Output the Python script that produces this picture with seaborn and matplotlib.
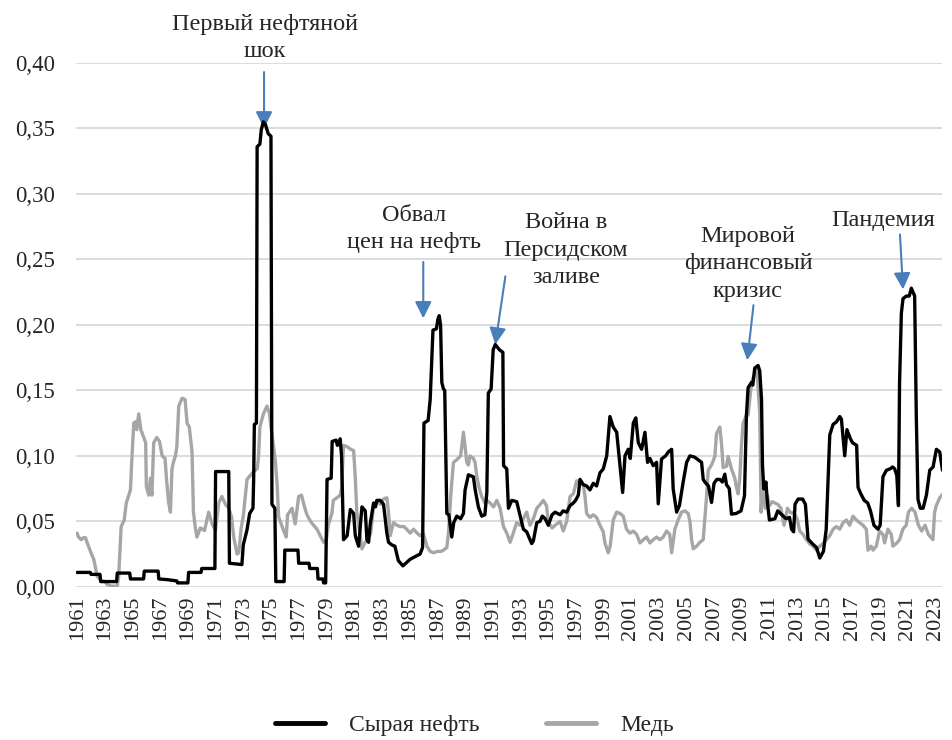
import numpy as np
import pandas as pd
import seaborn as sns
import matplotlib.pyplot as plt
from matplotlib.ticker import FuncFormatter
from matplotlib.lines import Line2D

# values (decimal year, volatility)
oil_year = [1961.0, 1961.95, 1962.0, 1962.65, 1962.7, 1963.85, 1963.9, 1964.8, 1964.85, 1965.8,
            1965.85, 1966.85, 1966.9, 1967.5, 1968.2, 1968.25, 1969.0, 1969.05, 1969.95, 1970.0,
            1970.95, 1971.0, 1971.95, 1972.0, 1972.9, 1973.0, 1973.27, 1973.46, 1973.7, 1973.75,
            1973.8, 1973.95, 1974.0, 1974.2, 1974.3, 1974.45, 1974.6, 1974.8, 1975.0, 1975.07,
            1975.28, 1975.35, 1975.95, 1976.0, 1976.95, 1977.0, 1977.75, 1977.8, 1978.35, 1978.4,
            1978.75, 1978.8, 1978.95, 1979.05, 1979.35, 1979.42, 1979.7, 1979.8, 1980.0, 1980.1,
            1980.24, 1980.5, 1980.73, 1980.97, 1981.09, 1981.33, 1981.57, 1981.81, 1981.93, 1982.05,
            1982.17, 1982.41, 1982.55, 1982.65, 1982.9, 1983.13, 1983.37, 1983.49, 1983.73, 1983.95,
            1984.2, 1984.53, 1985.05, 1985.4, 1985.77, 1985.95, 1986.05, 1986.35, 1986.5, 1986.7,
            1986.95, 1987.05, 1987.15, 1987.25, 1987.34, 1987.46, 1987.55, 1987.7, 1987.85, 1988.06,
            1988.2, 1988.42, 1988.7, 1988.9, 1989.02, 1989.26, 1989.62, 1989.75, 1989.98, 1990.22,
            1990.45, 1990.59, 1990.7, 1990.9, 1991.05, 1991.2, 1991.5, 1991.75, 1991.8, 1992.03,
            1992.15, 1992.39, 1992.75, 1992.99, 1993.23, 1993.47, 1993.83, 1993.95, 1994.2, 1994.43,
            1994.6, 1994.8, 1995.03, 1995.3, 1995.52, 1995.88, 1996.1, 1996.36, 1996.6, 1996.84,
            1997.0, 1997.2, 1997.32, 1997.56, 1997.8, 1998.04, 1998.28, 1998.52, 1998.76, 1999.0,
            1999.25, 1999.48, 1999.72, 1999.97, 2000.21, 2000.4, 2000.57, 2000.8, 2000.95, 2001.17,
            2001.35, 2001.53, 2001.77, 2002.01, 2002.2, 2002.37, 2002.61, 2002.85, 2002.97, 2003.21,
            2003.5, 2003.7, 2003.94, 2004.05, 2004.3, 2004.5, 2004.77, 2005.02, 2005.26, 2005.6,
            2005.85, 2006.1, 2006.22, 2006.34, 2006.6, 2006.82, 2007.0, 2007.2, 2007.42, 2007.6,
            2007.78, 2007.9, 2008.1, 2008.26, 2008.6, 2008.95, 2009.2, 2009.34, 2009.46, 2009.7,
            2009.8, 2009.94, 2010.18, 2010.3, 2010.43, 2010.5, 2010.6, 2010.75, 2010.85, 2011.0,
            2011.4, 2011.6, 2011.9, 2012.2, 2012.45, 2012.6, 2012.75, 2012.85, 2013.07, 2013.4,
            2013.6, 2013.79, 2014.1, 2014.4, 2014.64, 2014.9, 2015.1, 2015.24, 2015.36, 2015.6,
            2015.85, 2016.08, 2016.2, 2016.44, 2016.6, 2016.85, 2017.0, 2017.3, 2017.4, 2017.6,
            2017.85, 2018.1, 2018.3, 2018.55, 2018.84, 2019.0, 2019.2, 2019.45, 2019.7, 2019.9,
            2020.05, 2020.2, 2020.32, 2020.4, 2020.53, 2020.65, 2020.89, 2021.1, 2021.25, 2021.49,
            2021.61, 2021.73, 2021.9, 2022.1, 2022.34, 2022.58, 2022.82, 2023.06, 2023.3, 2023.5]
oil_val = [0.011, 0.011, 0.0095, 0.0095, 0.004, 0.004, 0.0105, 0.0105, 0.006, 0.006,
           0.012, 0.012, 0.006, 0.0055, 0.0045, 0.003, 0.003, 0.011, 0.011, 0.014,
           0.014, 0.088, 0.088, 0.018, 0.017, 0.032, 0.0435, 0.056, 0.06, 0.082,
           0.124, 0.125, 0.336, 0.338, 0.349, 0.355, 0.353, 0.346, 0.344, 0.063,
           0.06, 0.004, 0.004, 0.028, 0.028, 0.018, 0.018, 0.014, 0.014, 0.006,
           0.006, 0.003, 0.003, 0.082, 0.083, 0.111, 0.112, 0.108, 0.113, 0.0995,
           0.036, 0.039, 0.059, 0.056, 0.039, 0.031, 0.061, 0.058, 0.036, 0.034,
           0.048, 0.064, 0.061, 0.066, 0.066, 0.063, 0.041, 0.034, 0.032, 0.031,
           0.02, 0.016, 0.021, 0.023, 0.025, 0.03, 0.125, 0.127, 0.143, 0.196,
           0.197, 0.204, 0.207, 0.2, 0.156, 0.151, 0.15, 0.056, 0.055, 0.038,
           0.049, 0.054, 0.052, 0.056, 0.074, 0.0855, 0.084, 0.074, 0.061, 0.054,
           0.055, 0.072, 0.148, 0.151, 0.181, 0.185, 0.181, 0.179, 0.0925, 0.09,
           0.06, 0.066, 0.065, 0.0545, 0.044, 0.042, 0.033, 0.035, 0.049, 0.05,
           0.054, 0.052, 0.047, 0.055, 0.057, 0.055, 0.058, 0.057, 0.062, 0.064,
           0.066, 0.07, 0.082, 0.078, 0.077, 0.074, 0.079, 0.077, 0.087, 0.09,
           0.1, 0.13, 0.122, 0.118, 0.0925, 0.072, 0.1, 0.105, 0.098, 0.125,
           0.129, 0.11, 0.105, 0.118, 0.095, 0.098, 0.0925, 0.095, 0.0634, 0.0976,
           0.1, 0.103, 0.105, 0.0747, 0.057, 0.062, 0.08, 0.095, 0.1, 0.099,
           0.097, 0.095, 0.082, 0.08, 0.077, 0.0644, 0.079, 0.082, 0.082, 0.08,
           0.086, 0.078, 0.075, 0.0555, 0.056, 0.058, 0.0695, 0.131, 0.152, 0.156,
           0.154, 0.167, 0.169, 0.165, 0.143, 0.0925, 0.0747, 0.08, 0.065, 0.051,
           0.052, 0.058, 0.055, 0.052, 0.053, 0.044, 0.042, 0.063, 0.067, 0.067,
           0.063, 0.0365, 0.033, 0.03, 0.022, 0.027, 0.0436, 0.083, 0.116, 0.124,
           0.126, 0.13, 0.128, 0.1, 0.12, 0.113, 0.11, 0.108, 0.076, 0.071,
           0.066, 0.064, 0.058, 0.047, 0.044, 0.047, 0.084, 0.089, 0.09, 0.0915,
           0.09, 0.085, 0.062, 0.156, 0.209, 0.22, 0.222, 0.222, 0.228, 0.222,
           0.13, 0.0667, 0.06, 0.06, 0.07, 0.089, 0.0915, 0.105, 0.103, 0.089]

cu_year = [1961.0, 1961.1, 1961.3, 1961.45, 1961.6, 1961.75, 1962.0, 1962.2, 1962.45, 1962.7,
           1963.0, 1963.2, 1963.5, 1963.9, 1964.0, 1964.18, 1964.4, 1964.55, 1964.85, 1964.95,
           1965.09, 1965.2, 1965.3, 1965.45, 1965.6, 1965.81, 1965.95, 1966.0, 1966.17, 1966.3,
           1966.4, 1966.53, 1966.75, 1966.95, 1967.14, 1967.35, 1967.45, 1967.6, 1967.74, 1967.85,
           1967.95, 1968.1, 1968.2, 1968.34, 1968.58, 1968.8, 1968.94, 1969.1, 1969.3, 1969.4,
           1969.54, 1969.65, 1969.9, 1970.2, 1970.5, 1970.75, 1970.99, 1971.23, 1971.45, 1971.71,
           1971.95, 1972.15, 1972.31, 1972.55, 1972.67, 1972.85, 1973.0, 1973.27, 1973.5, 1973.75,
           1974.0, 1974.1, 1974.2, 1974.45, 1974.71, 1974.9, 1975.0, 1975.31, 1975.45, 1975.55,
           1975.91, 1976.1, 1976.2, 1976.52, 1976.75, 1977.0, 1977.2, 1977.45, 1977.6, 1977.8,
           1978.0, 1978.32, 1978.56, 1978.8, 1979.0, 1979.16, 1979.4, 1979.5, 1979.77, 1980.0,
           1980.1, 1980.24, 1980.5, 1980.75, 1980.97, 1981.09, 1981.2, 1981.45, 1981.57, 1981.8,
           1982.0, 1982.2, 1982.41, 1982.65, 1982.9, 1983.13, 1983.37, 1983.49, 1983.61, 1983.85,
           1984.1, 1984.33, 1984.6, 1984.8, 1985.05, 1985.3, 1985.55, 1985.77, 1986.0, 1986.26,
           1986.5, 1986.74, 1987.0, 1987.25, 1987.46, 1987.7, 1987.82, 1988.0, 1988.18, 1988.42,
           1988.7, 1988.9, 1989.02, 1989.14, 1989.26, 1989.38, 1989.62, 1989.74, 1989.86, 1990.0,
           1990.22, 1990.45, 1990.59, 1990.83, 1991.07, 1991.31, 1991.55, 1991.79, 1992.03, 1992.27,
           1992.5, 1992.75, 1992.99, 1993.23, 1993.47, 1993.71, 1993.95, 1994.2, 1994.45, 1994.67,
           1994.9, 1995.03, 1995.3, 1995.52, 1995.88, 1996.11, 1996.36, 1996.6, 1996.84, 1997.08,
           1997.32, 1997.56, 1997.68, 1997.8, 1998.04, 1998.28, 1998.52, 1998.76, 1999.0, 1999.12,
           1999.36, 1999.5, 1999.72, 1999.97, 2000.21, 2000.44, 2000.68, 2000.92, 2001.17, 2001.41,
           2001.65, 2001.9, 2002.13, 2002.37, 2002.61, 2002.85, 2003.09, 2003.33, 2003.57, 2003.8,
           2003.94, 2004.17, 2004.41, 2004.65, 2004.89, 2005.13, 2005.26, 2005.38, 2005.5, 2005.74,
           2005.98, 2006.22, 2006.46, 2006.58, 2006.82, 2007.06, 2007.18, 2007.42, 2007.55, 2007.66,
           2007.9, 2008.02, 2008.26, 2008.5, 2008.62, 2008.74, 2008.86, 2008.98, 2009.1, 2009.34,
           2009.46, 2009.71, 2009.95, 2010.1, 2010.2, 2010.3, 2010.4, 2010.5, 2010.7, 2010.85,
           2011.0, 2011.2, 2011.6, 2011.83, 2012.06, 2012.3, 2012.53, 2012.77, 2013.0, 2013.19,
           2013.43, 2013.67, 2013.9, 2014.15, 2014.4, 2014.64, 2014.88, 2015.12, 2015.36, 2015.6,
           2015.84, 2016.08, 2016.32, 2016.56, 2016.8, 2017.04, 2017.28, 2017.52, 2017.76, 2018.0,
           2018.12, 2018.36, 2018.48, 2018.72, 2018.96, 2019.2, 2019.32, 2019.56, 2019.8, 2019.92,
           2020.16, 2020.4, 2020.64, 2020.88, 2021.04, 2021.28, 2021.52, 2021.76, 2022.0, 2022.24,
           2022.48, 2022.81, 2022.93, 2023.05, 2023.3, 2023.5]
cu_val = [0.041, 0.038, 0.036, 0.0375, 0.0375, 0.033, 0.026, 0.021, 0.008, 0.005,
          0.004, 0.0015, 0.0005, 0.0005, 0.008, 0.046, 0.051, 0.064, 0.074, 0.097,
          0.125, 0.126, 0.12, 0.132, 0.12, 0.114, 0.11, 0.0766, 0.07, 0.083,
          0.07, 0.11, 0.114, 0.111, 0.1, 0.098, 0.083, 0.065, 0.057, 0.09,
          0.095, 0.1, 0.107, 0.138, 0.144, 0.143, 0.125, 0.122, 0.103, 0.057,
          0.045, 0.038, 0.045, 0.043, 0.057, 0.048, 0.043, 0.064, 0.069, 0.063,
          0.06, 0.0535, 0.038, 0.025, 0.026, 0.045, 0.054, 0.082, 0.085, 0.088,
          0.09, 0.099, 0.122, 0.132, 0.138, 0.132, 0.122, 0.097, 0.077, 0.0535,
          0.043, 0.038, 0.055, 0.06, 0.048, 0.069, 0.07, 0.06, 0.055, 0.051,
          0.048, 0.044, 0.039, 0.034, 0.036, 0.048, 0.056, 0.066, 0.068, 0.07,
          0.075, 0.108, 0.107, 0.105, 0.104, 0.083, 0.057, 0.039, 0.029, 0.034,
          0.036, 0.041, 0.061, 0.066, 0.063, 0.067, 0.068, 0.057, 0.039, 0.049,
          0.047, 0.046, 0.046, 0.044, 0.041, 0.044, 0.041, 0.039, 0.041, 0.031,
          0.027, 0.026, 0.027, 0.027, 0.028, 0.03, 0.041, 0.072, 0.095, 0.097,
          0.1, 0.118, 0.107, 0.095, 0.093, 0.1, 0.098, 0.095, 0.085, 0.077,
          0.069, 0.064, 0.066, 0.064, 0.061, 0.066, 0.06, 0.046, 0.041, 0.034,
          0.041, 0.049, 0.047, 0.052, 0.057, 0.047, 0.052, 0.06, 0.063, 0.066,
          0.062, 0.049, 0.045, 0.047, 0.05, 0.0426, 0.05, 0.069, 0.071, 0.081,
          0.078, 0.078, 0.069, 0.056, 0.053, 0.055, 0.053, 0.047, 0.042, 0.0335,
          0.026, 0.031, 0.051, 0.057, 0.056, 0.054, 0.044, 0.041, 0.0426, 0.04,
          0.0335, 0.036, 0.038, 0.0335, 0.036, 0.038, 0.036, 0.038, 0.0426, 0.04,
          0.026, 0.044, 0.051, 0.057, 0.058, 0.056, 0.05, 0.036, 0.029, 0.031,
          0.034, 0.036, 0.069, 0.089, 0.093, 0.0995, 0.117, 0.122, 0.108, 0.091,
          0.092, 0.0995, 0.09, 0.083, 0.076, 0.071, 0.083, 0.108, 0.125, 0.131,
          0.131, 0.156, 0.163, 0.166, 0.15, 0.133, 0.057, 0.076, 0.06, 0.07,
          0.062, 0.065, 0.063, 0.06, 0.047, 0.06, 0.0565, 0.0565, 0.052, 0.0426,
          0.04, 0.036, 0.033, 0.031, 0.028, 0.031, 0.033, 0.036, 0.039, 0.044,
          0.046, 0.044, 0.049, 0.051, 0.047, 0.054, 0.051, 0.049, 0.047, 0.044,
          0.028, 0.031, 0.028, 0.031, 0.0426, 0.04, 0.0335, 0.044, 0.04, 0.031,
          0.033, 0.036, 0.044, 0.047, 0.057, 0.06, 0.057, 0.047, 0.0426, 0.047,
          0.04, 0.036, 0.057, 0.062, 0.068, 0.0705]

series_names = ['Сырая нефть', 'Медь']
year_ticks = list(range(1961, 2024, 2))
y_ticks = [0.0, 0.05, 0.10, 0.15, 0.20, 0.25, 0.30, 0.35, 0.40]

# annotation texts, where the arrows start and end, and where the text sits
events = ['Первый нефтяной\nшок', 'Обвал\nцен на нефть', 'Война в\nПерсидском\nзаливе',
          'Мировой\nфинансовый\nкризис', 'Пандемия']
event_tip = [(1974.5, 0.350), (1986.0, 0.205), (1991.2, 0.185), (2009.4, 0.173), (2020.65, 0.227)]
event_tail = [(1974.5, 0.393), (1986.0, 0.248), (1991.93, 0.237), (2009.85, 0.215), (2020.43, 0.269)]
event_text = [(1974.55, 0.419), (1985.3, 0.273), (1996.3, 0.257), (2009.45, 0.2466), (2019.2, 0.280)]

df = pd.concat([
    pd.DataFrame({'year': oil_year, 'value': oil_val, 'series': series_names[0]}),
    pd.DataFrame({'year': cu_year, 'value': cu_val, 'series': series_names[1]}),
])

sns.set_style('white')
plt.rcParams['font.family'] = ['Liberation Serif', 'DejaVu Serif']

fig = plt.figure(figsize=(9.52, 7.40), dpi=100)
ax = fig.add_axes([0.080, 0.207, 0.910, 0.708])

colors = {series_names[0]: '#000000', series_names[1]: '#a6a6a6'}
sns.lineplot(data=df, x='year', y='value', hue='series', palette=colors,
             estimator=None, linewidth=2.4, ax=ax, legend=False)
# oil above copper
ax.get_lines()[0].set_zorder(4)
ax.get_lines()[1].set_zorder(3)

ax.set_xlim(1960.93, 2023.5)
ax.set_ylim(0, 0.40)
ax.set_yticks(y_ticks)
ax.yaxis.set_major_formatter(FuncFormatter(lambda v, p: f'{v:.2f}'.replace('.', ',')))
ax.set_xticks(year_ticks)
ax.set_xticklabels([str(y) for y in year_ticks], rotation=90)
ax.tick_params(axis='y', length=0, pad=15, labelsize=16.5)
ax.tick_params(axis='x', length=0, pad=6, labelsize=16)
ax.grid(axis='y', color='#d9d9d9', linewidth=1.3)
ax.set_axisbelow(True)
ax.set_xlabel('')
ax.set_ylabel('')
for s in ax.spines.values():
    s.set_visible(False)

for txt, tip, tail, pos in zip(events, event_tip, event_tail, event_text):
    ax.annotate('', xy=tip, xytext=tail,
                arrowprops=dict(arrowstyle='-|>,head_length=1.0,head_width=0.5',
                                color='#4a7ebb', lw=1.5, shrinkA=0, shrinkB=0))
    ax.text(pos[0], pos[1], txt, ha='center', va='center', fontsize=17.5,
            linespacing=1.4, clip_on=False)

handles = [Line2D([], [], color=colors[n], lw=3.5) for n in series_names]
fig.legend(handles, series_names, loc='center', bbox_to_anchor=(0.498, 0.02),
           ncol=2, frameon=False, fontsize=17, handlelength=2.15,
           handletextpad=1.0, columnspacing=2.8)

fig.savefig('out.png', dpi=100)
